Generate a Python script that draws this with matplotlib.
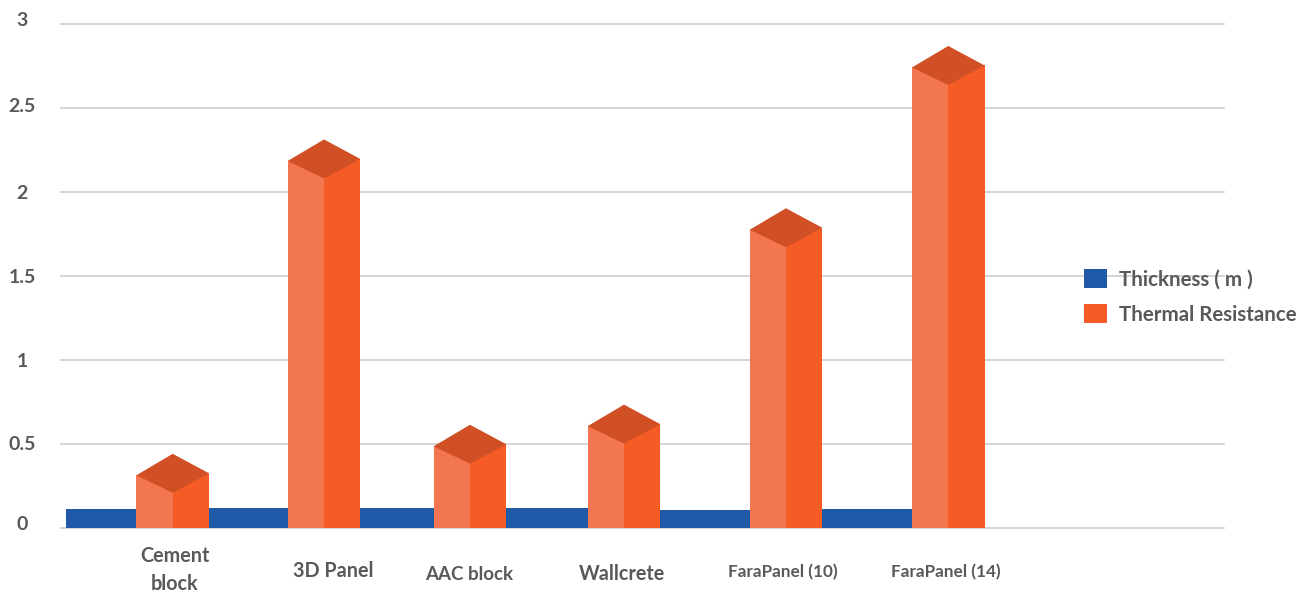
import matplotlib
matplotlib.use('Agg')
import matplotlib.pyplot as plt
from matplotlib.transforms import ScaledTranslation

categories = ['Cement\nblock', '3D Panel', 'AAC block', 'Wallcrete', 'FaraPanel (10)', 'FaraPanel (14)']
thickness = [0.11, 0.115, 0.115, 0.115, 0.105, 0.11]
thermal_resistance = [0.317, 2.19, 0.49, 0.61, 1.78, 2.747]
y_ticks = [0, 0.5, 1, 1.5, 2, 2.5, 3]
y_tick_labels = ['0', '0.5', '1', '1.5', '2', '2.5', '3']

# layout, all in image pixels (x) because the categories are not evenly spaced
bar_centers = [172.7, 324, 470, 624, 786, 948.3]
blue_edges = [66, 172.7, 324, 470, 624, 786, 912]
label_x = [174.5, 333.5, 469.5, 622, 783, 946]
label_y = [570, 571, 574, 574, 572, 572]
label_size = [14.2, 14.2, 13.5, 14.2, 12.3, 12.3]
tick_shift = [5, 1, 0, 0, 0, 3, 5]  # the tick labels sit a little above their lines

W, H = 1316, 594
Y0, Y3 = 527.5, 24
PX = (Y0 - Y3) / 3  # pixels per unit
HALF = 36.3

BLUE = '#2059a8'
ORANGE = '#f45b25'
LIGHT = '#f27650'
DARK = '#d04f25'
GRID = '#c9c9c9'
TEXT = '#58595b'

plt.rcParams['font.family'] = ['Lato', 'DejaVu Sans']

fig = plt.figure(figsize=(W / 100, H / 100), dpi=100)
ax = fig.add_axes([61 / W, (H - Y0) / H, (1224 - 61) / W, (Y0 - Y3) / H])
ax.set_xlim(61, 1224)
ax.set_ylim(0, 3)

for spine in ax.spines.values():
    spine.set_visible(False)
ax.set_xticks([])
ax.set_yticks(y_ticks)
ax.set_yticklabels(y_tick_labels)
ax.tick_params(axis='y', length=0, pad=28, labelsize=14, labelcolor=TEXT)
for label, shift in zip(ax.get_yticklabels(), tick_shift):
    label.set_ha('center')
    label.set_fontweight('bold')
    label.set_transform(label.get_transform() + ScaledTranslation(0, shift / 100, fig.dpi_scale_trans))
ax.yaxis.grid(True, color=GRID, linewidth=1.1, clip_on=False)
ax.set_axisbelow(True)

# blue strip, each piece runs under the next orange column
for i in range(len(thickness)):
    ax.bar(blue_edges[i], thickness[i], width=blue_edges[i + 1] - blue_edges[i], align='edge',
           color=BLUE, zorder=2, label='Thickness ( m )' if i == 0 else None)

# fake 3d columns: two faces and a diamond on top
for i, (c, v) in enumerate(zip(bar_centers, thermal_resistance)):
    ax.bar(c - HALF, v - 1 / PX, width=HALF, align='edge', color=LIGHT, zorder=3)
    ax.bar(c, v + 1 / PX, width=HALF, align='edge', color=ORANGE, zorder=3,
           label='Thermal Resistance' if i == 0 else None)
    ax.fill([c - HALF, c, c + HALF, c],
            [v - 1 / PX, v - 18.5 / PX, v + 1 / PX, v + 20.5 / PX],
            color=DARK, linewidth=0, zorder=4)

for name, x, y, size in zip(categories, label_x, label_y, label_size):
    ax.text(x, (Y0 - y) / PX, name, ha='center', va='center', color=TEXT, fontsize=size,
            fontweight='bold', linespacing=1.5, clip_on=False)

ax.legend(loc='center left', bbox_to_anchor=((1084 - 61) / (1224 - 61), (Y0 - 297) / (Y0 - Y3)),
          frameon=False, prop={'size': 14.8, 'weight': 'bold'}, labelcolor=TEXT,
          handlelength=1.12, handleheight=1.05, handletextpad=0.58, labelspacing=0.72,
          borderaxespad=0, borderpad=0)

fig.savefig('out.png', dpi=100)
